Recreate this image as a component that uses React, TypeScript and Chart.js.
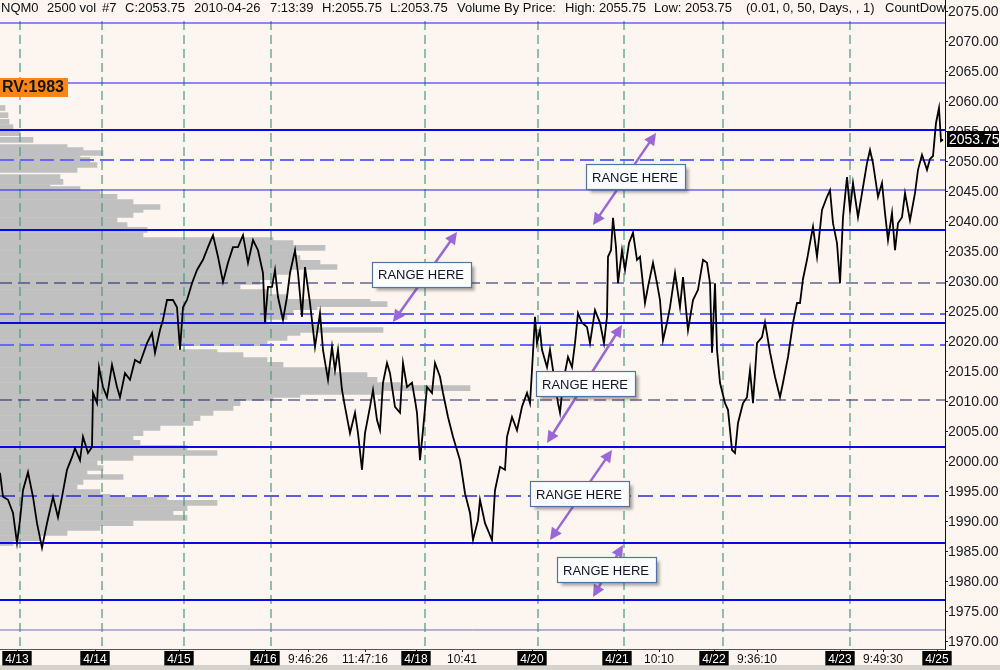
import { useEffect, useRef } from "react";
import { Chart, registerables } from "chart.js";

Chart.register(...registerables);

const FONT = "'Liberation Sans', Arial, Helvetica, sans-serif";

// ---- price series (bar index, price) ----
const priceX = [
  0, 3, 8, 13, 17, 20, 23, 28, 33, 37,
  42, 47, 53, 58, 62, 67, 72, 75, 80, 83,
  88, 92, 93, 97, 99, 103, 107, 112, 117, 120,
  125, 130, 135, 140, 147, 152, 155, 160, 163, 167,
  173, 177, 180, 183, 187, 192, 197, 203, 208, 213,
  218, 223, 228, 233, 238, 243, 248, 253, 258, 263,
  265, 268, 272, 275, 278, 283, 287, 290, 295, 298,
  302, 305, 310, 315, 320, 323, 328, 332, 335, 338,
  342, 345, 350, 355, 358, 362, 365, 370, 373, 377,
  380, 383, 387, 390, 395, 400, 403, 407, 412, 415,
  417, 420, 423, 427, 432, 435, 440, 443, 448, 453,
  460, 465, 470, 473, 478, 480, 485, 492, 495, 500,
  505, 507, 512, 517, 522, 527, 530, 532, 535, 537,
  540, 542, 547, 550, 553, 558, 560, 563, 568, 572,
  575, 578, 582, 587, 590, 595, 600, 604, 607, 608,
  611, 613, 616, 618, 622, 625, 629, 633, 637, 640,
  645, 648, 653, 657, 660, 663, 667, 670, 675, 680,
  683, 688, 693, 698, 703, 707, 710, 712, 715, 717,
  720, 725, 728, 732, 735, 738, 743, 747, 750, 753,
  757, 762, 765, 770, 775, 780, 783, 788, 793, 797,
  800, 803, 807, 810, 813, 817, 822, 827, 830, 833,
  837, 840, 843, 847, 850, 853, 858, 863, 867, 870,
  873, 878, 882, 885, 888, 892, 895, 898, 902, 905,
  910, 915, 918, 922, 927, 930, 933, 936, 939, 941, 943,
];
const priceY = [
  1998.2, 1994.2, 1993.7, 1991.5, 1986.5, 1990.3, 1995.3, 1998.3, 1994.2, 1989.8,
  1985.7, 1989.8, 1994.2, 1990.8, 1994.2, 1998.7, 2000.8, 2002.3, 2000.3, 2004.2,
  2001.5, 2002.5, 2011.5, 2009.8, 2015.8, 2012.5, 2010.8, 2016.2, 2012.5, 2010.8,
  2014.8, 2013.7, 2017, 2016.5, 2019.8, 2021.5, 2018.2, 2022, 2023.7, 2027,
  2027, 2025.8, 2018.7, 2025.8, 2027, 2029.8, 2032, 2033.7, 2035.8, 2037.8,
  2034.2, 2030, 2033.2, 2035.8, 2035.8, 2037.8, 2033.2, 2037, 2035.3, 2031.5,
  2023.3, 2029.2, 2029.2, 2032, 2027.5, 2023.7, 2027.5, 2031.5, 2035.3, 2031.5,
  2024.2, 2032.5, 2026.5, 2019.2, 2024.8, 2018.7, 2013.7, 2019.2, 2015.3, 2018.7,
  2012, 2009.2, 2004.8, 2008.2, 2004.8, 1998.7, 2004.8, 2009.2, 2012, 2007,
  2005.3, 2013.2, 2016.5, 2014.8, 2009.2, 2008.2, 2016.5, 2012.5, 2013.2, 2010.3,
  2008.2, 2000.3, 2005.3, 2012.5, 2011.5, 2016.5, 2014.2, 2011.5, 2007.5, 2004.2,
  2000.3, 1994.8, 1991.5, 1987, 1990.3, 1993.7, 1989.8, 1987, 1995.3, 1999.2,
  1998.7, 2004.2, 2007.5, 2005.3, 2009.2, 2011.5, 2009.8, 2015.3, 2024.2, 2019.8,
  2022, 2018.7, 2015.8, 2018.7, 2015.3, 2009.8, 2008.2, 2013.2, 2017.5, 2015.8,
  2019.8, 2024.8, 2023.2, 2022.5, 2019.8, 2025.3, 2023.2, 2019.8, 2024.2, 2034.2,
  2035.3, 2040.7, 2035.8, 2029.8, 2035.3, 2032, 2036.5, 2038.2, 2033.7, 2034.2,
  2026.5, 2029.2, 2033.2, 2029.8, 2027, 2020.3, 2023.2, 2025.8, 2031.5, 2025.8,
  2030.8, 2022, 2027, 2028.7, 2033.7, 2033.2, 2029.8, 2018.2, 2029.8, 2018.7,
  2013.2, 2009.8, 2008.7, 2002, 2001.5, 2006.5, 2009.8, 2010.8, 2015.3, 2009.8,
  2019.8, 2020.8, 2023.3, 2018.3, 2014.2, 2010.8, 2013.2, 2017.5, 2023.2, 2026.5,
  2026.5, 2030.5, 2033.7, 2036.5, 2039.2, 2034.2, 2042, 2044.2, 2045.3, 2039.8,
  2036.5, 2029.8, 2040.8, 2047.5, 2042, 2046.5, 2040.8, 2045.8, 2049.8, 2052,
  2049.8, 2044.2, 2046.5, 2041.5, 2037, 2041.5, 2035.3, 2039.8, 2040.8, 2044.8,
  2040.3, 2044.8, 2048.7, 2051.2, 2048.7, 2050.5, 2051, 2056.5, 2059, 2053.5, 2053.75,
];

// ---- volume by price ----
const volPrice = [
  2059.0, 2057.8, 2056.7, 2055.8, 2054.8, 2053.7, 2052.5, 2052.0, 2051.5, 2050.8,
  2050.3, 2049.5, 2048.7, 2047.5, 2046.7, 2045.8, 2045.5, 2044.8, 2044.2, 2043.3,
  2042.5, 2042.0, 2041.2, 2040.3, 2039.5, 2038.7, 2037.8, 2037.0, 2036.5, 2035.7,
  2034.8, 2034.0, 2033.2, 2032.5, 2031.7, 2030.8, 2030.0, 2029.2, 2028.3, 2027.5,
  2026.7, 2026.3, 2025.8, 2025.0, 2024.2, 2023.3, 2022.5, 2022.0, 2021.5, 2020.7,
  2019.8, 2019.0, 2018.3, 2017.8, 2017.0, 2016.2, 2015.3, 2014.5, 2013.7, 2012.8,
  2012.3, 2011.7, 2011.2, 2010.7, 2009.8, 2009.0, 2008.2, 2007.3, 2006.5, 2005.7,
  2004.8, 2004.0, 2003.2, 2002.3, 2001.5, 2000.7, 1999.8, 1999.0, 1998.2, 1997.5,
  1996.7, 1995.8, 1995.0, 1994.2, 1993.7, 1993.2, 1992.3, 1991.5, 1990.7, 1989.8,
  1989.0, 1988.2, 1987.3, 1986.5,
];
const volSize = [
  5, 8, 9, 13, 20, 33, 67, 83, 103, 80,
  90, 97, 77, 60, 63, 50, 80, 100, 117, 133,
  160, 143, 133, 117, 127, 147, 143, 273, 293, 325,
  293, 300, 320, 337, 290, 273, 260, 240, 267, 287,
  370, 387, 317, 293, 287, 267, 317, 383, 300, 287,
  267, 177, 217, 243, 267, 283, 333, 367, 377, 400,
  470, 383, 300, 273, 240, 233, 213, 200, 193, 160,
  143, 133, 140, 187, 217, 133, 97, 103, 87, 123,
  83, 77, 100, 110, 167, 217, 187, 173, 187, 133,
  100, 67, 40, 13,
];

// ---- horizontal reference levels ----
const levelPrices = [
  2073.17, 2063.17, 2055.33, 2050.33, 2045.33, 2038.67, 2029.83, 2024.67,
  2023.17, 2019.5, 2010.33, 2002.5, 1994.33, 1986.5, 1977.0, 1972.0,
];
const levelKinds = [
  "thin", "thin", "thick", "dashLight", "thin", "thick", "dashDark", "dashLight",
  "thick", "dashLight", "dashDark", "thick", "dashBlue", "thick", "thick", "faint",
];

// ---- session separators (bar index) ----
const sessionBars = [20, 102, 184, 271, 425, 538, 624, 723, 850];

// ---- axis ticks ----
const yTicks = [
  1970, 1975, 1980, 1985, 1990, 1995, 2000, 2005, 2010, 2015, 2020,
  2025, 2030, 2035, 2040, 2045, 2050, 2055, 2060, 2065, 2070, 2075,
];
const xTickBars = [17, 95, 179, 265, 308, 365, 416, 462, 532, 617, 659, 714, 757, 840, 883, 937];
const xTickLabels = [
  "4/13", "4/14", "4/15", "4/16", "9:46:26", "11:47:16", "4/18", "10:41",
  "4/20", "4/21", "10:10", "4/22", "9:36:10", "4/23", "9:49:30", "4/25",
];
const xTickIsDate = [true, true, true, true, false, false, true, false, true, true, false, true, false, true, false, true];

// ---- header text ----
const headerTexts = [
  "NQM0", "2500 vol", "#7", "C:2053.75", "2010-04-26", "7:13:39", "H:2055.75", "L:2053.75",
  "Volume By Price:", "High: 2055.75", "Low: 2053.75", "(0.01, 0, 50, Days, , 1)", "CountDown",
];
const headerOffsets = [1, 47, 102, 125, 194, 270, 322, 390, 457, 565, 654, 746, 885];

// ---- annotations (bar index, price) ----
const rangeLabel = "RANGE HERE";
const boxBars = [421, 635, 585, 579, 606];
const boxPrices = [2031.33, 2047.5, 2013.0, 1994.67, 1982.0];
const arrowFromBars = [393, 593, 547, 550, 593];
const arrowFromPrices = [2023.33, 2039.5, 2003.17, 1987.0, 1977.5];
const arrowToBars = [457, 656, 622, 612, 623];
const arrowToPrices = [2038.33, 2054.83, 2022.83, 2002.0, 1986.17];
const rvText = "RV:1983";

const Y_MIN = 1968.8333;
const Y_MAX = 2077;
const X_MAX = 945;
const SESSION_TOP = 2073.5;

const lineStyles: Record<string, { color: string; width: number; dash: number[] }> = {
  thin: { color: "#1f1fee", width: 1.2, dash: [] },
  thick: { color: "#0808ee", width: 2, dash: [] },
  dashLight: { color: "#6767ff", width: 2, dash: [14, 6] },
  dashDark: { color: "#1c1c6a", width: 1.2, dash: [12, 6] },
  dashBlue: { color: "#2a2ad6", width: 1.3, dash: [15, 7] },
  faint: { color: "#6f6fb0", width: 1, dash: [] },
};

function drawHead(ctx: CanvasRenderingContext2D, x: number, y: number, ang: number) {
  const len = 12;
  const half = 6;
  const c = Math.cos(ang);
  const s = Math.sin(ang);
  ctx.beginPath();
  ctx.moveTo(x, y);
  ctx.lineTo(x - len * c + half * s, y - len * s - half * c);
  ctx.lineTo(x - len * c - half * s, y - len * s + half * c);
  ctx.closePath();
  ctx.fill();
}

const overlayPlugin = {
  id: "overlay",
  beforeDraw(chart: any) {
    const { ctx, width, height } = chart;
    ctx.save();
    ctx.fillStyle = "#fdf5ef";
    ctx.fillRect(0, 0, width, height);
    ctx.fillStyle = "#d5d2cc";
    ctx.fillRect(0, 665, width, height - 665);
    ctx.restore();
  },
  afterDraw(chart: any) {
    const { ctx } = chart;
    const xs = chart.scales.x;
    const ys = chart.scales.y;
    ctx.save();

    // arrows
    ctx.strokeStyle = "#9a68d6";
    ctx.fillStyle = "#9a68d6";
    ctx.lineWidth = 2.5;
    for (let i = 0; i < arrowFromBars.length; i++) {
      const x1 = xs.getPixelForValue(arrowFromBars[i]);
      const y1 = ys.getPixelForValue(arrowFromPrices[i]);
      const x2 = xs.getPixelForValue(arrowToBars[i]);
      const y2 = ys.getPixelForValue(arrowToPrices[i]);
      const ang = Math.atan2(y2 - y1, x2 - x1);
      const c = Math.cos(ang);
      const s = Math.sin(ang);
      ctx.beginPath();
      ctx.moveTo(x1 + c * 8, y1 + s * 8);
      ctx.lineTo(x2 - c * 8, y2 - s * 8);
      ctx.stroke();
      drawHead(ctx, x2, y2, ang);
      drawHead(ctx, x1, y1, ang + Math.PI);
    }

    // range boxes
    ctx.font = `13px ${FONT}`;
    ctx.textAlign = "center";
    ctx.textBaseline = "middle";
    for (let i = 0; i < boxBars.length; i++) {
      const cx = xs.getPixelForValue(boxBars[i]);
      const cy = ys.getPixelForValue(boxPrices[i]);
      const w = 99;
      const h = 25;
      const l = Math.round(cx - w / 2) + 0.5;
      const t = Math.round(cy - h / 2) + 0.5;
      ctx.save();
      ctx.shadowColor = "rgba(60,60,60,0.45)";
      ctx.shadowOffsetX = 3;
      ctx.shadowOffsetY = 3;
      ctx.shadowBlur = 3;
      ctx.fillStyle = "#fbfcfe";
      ctx.fillRect(l, t, w, h);
      ctx.restore();
      ctx.strokeStyle = "#55749f";
      ctx.lineWidth = 1.2;
      ctx.strokeRect(l, t, w, h);
      ctx.fillStyle = "#14142a";
      ctx.fillText(rangeLabel, cx, cy + 1);
    }

    // RV label
    ctx.fillStyle = "#ff8410";
    ctx.fillRect(0, 78, 68, 19);
    ctx.fillStyle = "#151515";
    ctx.font = `bold 16px ${FONT}`;
    ctx.textAlign = "left";
    ctx.fillText(rvText, 2, 88);

    // last price marker
    const lastPrice = priceY[priceY.length - 1];
    const py = ys.getPixelForValue(lastPrice);
    ctx.fillStyle = "#000";
    ctx.fillRect(947, Math.round(py - 8), 52, 16);
    ctx.fillStyle = "#fff";
    ctx.font = `14px ${FONT}`;
    ctx.fillText(lastPrice.toFixed(2), 949, py + 0.5);

    // header text
    ctx.beginPath();
    ctx.rect(0, 0, 945, 20);
    ctx.clip();
    ctx.fillStyle = "#111";
    ctx.font = `13px ${FONT}`;
    for (let i = 0; i < headerTexts.length; i++) {
      ctx.fillText(headerTexts[i], headerOffsets[i], 8.5);
    }
    ctx.restore();
  },
};

export default function App() {
  const canvasRef = useRef<HTMLCanvasElement | null>(null);

  useEffect(() => {
    const canvas = canvasRef.current;
    if (!canvas) return;

    const datasets: any[] = [];

    datasets.push({
      type: "line",
      data: priceX.map((x, i) => ({ x, y: priceY[i] })),
      borderColor: "#000",
      borderWidth: 1.8,
      pointRadius: 0,
      tension: 0,
      order: 0,
    });

    levelPrices.forEach((p, i) => {
      const st = lineStyles[levelKinds[i]];
      datasets.push({
        type: "line",
        data: [
          { x: 0, y: p },
          { x: X_MAX, y: p },
        ],
        borderColor: st.color,
        borderWidth: st.width,
        borderDash: st.dash,
        pointRadius: 0,
        order: 1,
      });
    });

    sessionBars.forEach((b) => {
      datasets.push({
        type: "line",
        data: [
          { x: b, y: SESSION_TOP },
          { x: b, y: Y_MIN },
        ],
        borderColor: "#4a9c78",
        borderWidth: 1.2,
        borderDash: [9, 5],
        pointRadius: 0,
        order: 2,
      });
    });

    datasets.push({
      type: "bar",
      indexAxis: "y",
      xAxisID: "xv",
      yAxisID: "y",
      data: volPrice.map((p, i) => ({ x: volSize[i], y: p })),
      backgroundColor: "#c0c0c0",
      borderWidth: 0,
      grouped: false,
      barThickness: 5,
      order: 3,
    });

    const chart = new Chart(canvas, {
      type: "line",
      data: { datasets },
      options: {
        responsive: false,
        animation: false,
        events: [],
        layout: { padding: 0 },
        plugins: { legend: { display: false }, tooltip: { enabled: false } },
        scales: {
          x: {
            type: "linear",
            position: "bottom",
            min: 0,
            max: X_MAX,
            offset: false,
            afterBuildTicks: (scale: any) => {
              scale.ticks = xTickBars.map((v) => ({ value: v }));
            },
            afterFit: (scale: any) => {
              scale.height = 21;
              scale.paddingLeft = 0;
              scale.paddingRight = 0;
            },
            grid: { drawOnChartArea: false, drawTicks: true, tickLength: 3, color: "#222", offset: false },
            border: { display: true, color: "#555", width: 1 },
            ticks: {
              autoSkip: false,
              maxRotation: 0,
              minRotation: 0,
              padding: 0,
              font: { size: 12, family: FONT },
              callback: (_v: any, i: number) => xTickLabels[i],
              color: (c: any) => (xTickIsDate[c.index] ? "#ffffff" : "#111111"),
              showLabelBackdrop: (c: any) => xTickIsDate[c.index],
              backdropColor: "#000000",
              backdropPadding: { top: 1, bottom: -1, left: 3, right: 3 },
            } as any,
          },
          xv: {
            type: "linear",
            display: false,
            offset: false,
            min: 0,
            max: X_MAX,
          },
          y: {
            type: "linear",
            position: "right",
            min: Y_MIN,
            max: Y_MAX,
            offset: false,
            afterBuildTicks: (scale: any) => {
              scale.ticks = yTicks.map((v) => ({ value: v }));
            },
            afterFit: (scale: any) => {
              scale.width = 55;
              scale.paddingTop = 0;
              scale.paddingBottom = 0;
            },
            grid: { drawOnChartArea: false, drawTicks: true, tickLength: 3, color: "#222", offset: false },
            border: { display: true, color: "#111", width: 1 },
            ticks: {
              autoSkip: false,
              padding: 0,
              font: { size: 14, family: FONT },
              color: "#1a1a22",
              callback: (v: any) => Number(v).toFixed(2),
            },
          },
        },
      } as any,
      plugins: [overlayPlugin],
    });

    return () => chart.destroy();
  }, []);

  return (
    <div style={{ position: "fixed", left: 0, top: 0, width: 1000, height: 670 }}>
      <canvas ref={canvasRef} width={1000} height={670} style={{ display: "block", width: 1000, height: 670 }} />
    </div>
  );
}
